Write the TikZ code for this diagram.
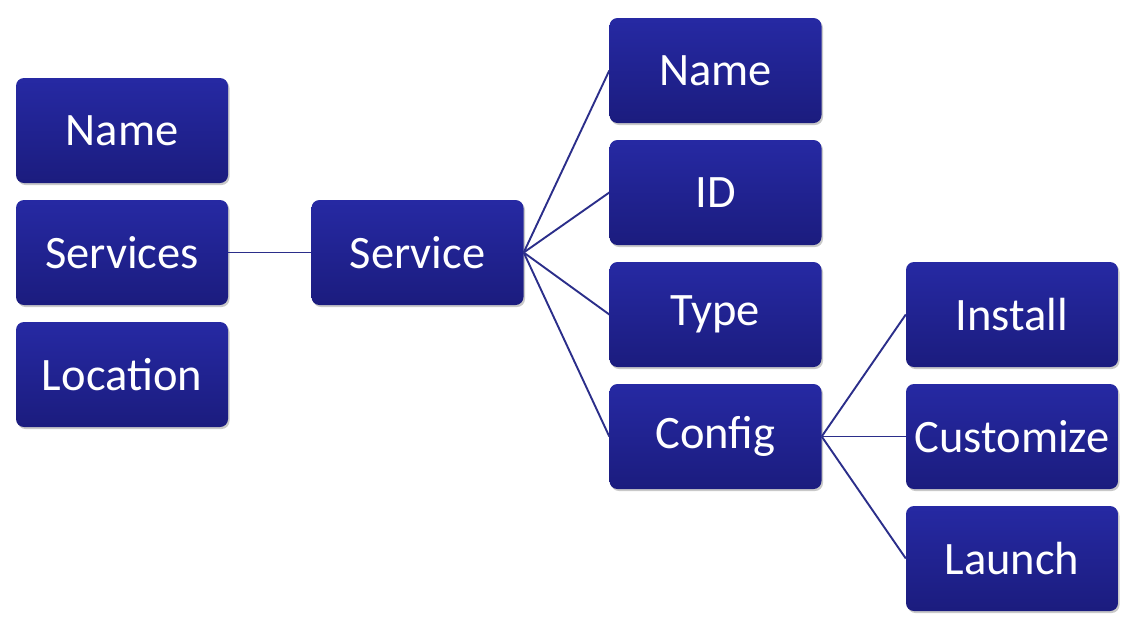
\documentclass[tikz,border=0pt]{standalone}
\usepackage{fontspec}
\setmainfont{Carlito}
\usetikzlibrary{shadows}
\definecolor{boxtop}{HTML}{2629A3}
\definecolor{boxbot}{HTML}{1B1C7E}
\definecolor{linec}{HTML}{2B2E8A}
\begin{document}
\begin{tikzpicture}[x=1pt,y=-1pt,
  box/.style={rectangle,rounded corners=8pt,minimum width=212pt,minimum height=105pt,
    inner sep=0pt,top color=boxtop,bottom color=boxbot,draw=none,
    text=white,font=\fontsize{46.5}{52}\selectfont,
    drop shadow={shadow xshift=1.5pt,shadow yshift=-2pt,opacity=0.35,fill=black!60}},
  conn/.style={draw=linec,line width=1.9pt}]
\useasboundingbox[fill=white] (0,0) rectangle (1142,630);
\node[box] (lname) at (122,130.5) {Name};
\node[box] (lservices) at (122,252.5) {Services};
\node[box] (llocation) at (122,374.5) {Location};
\node[box] (service) at (417.5,252.5) {Service};
\node[box] (name) at (715.5,70.5) {Name};
\node[box] (id) at (715.5,192.5) {ID};
\node[box] (type) at (715.5,314.5) {Type};
\node[box] (config) at (715.5,436.5) {Config};
\node[box] (install) at (1012,314.5) {Install};
\node[box] (customize) at (1012,436.5) {Customize};
\node[box] (launch) at (1012,558.5) {Launch};
\draw[conn] (lservices.east) -- (service.west);
\foreach \t in {name,id,type,config} \draw[conn] (service.east) -- (\t.west);
\foreach \t in {install,customize,launch} \draw[conn] (config.east) -- (\t.west);
\end{tikzpicture}
\end{document}
